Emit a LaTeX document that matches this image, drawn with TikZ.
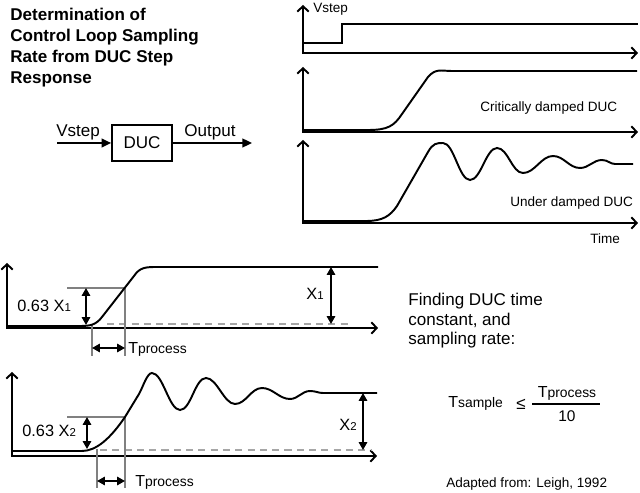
\documentclass[tikz,border=0pt]{standalone}
\usepackage{fontspec}
\setmainfont{Liberation Sans}
\usetikzlibrary{arrows.meta}

\newcommand{\idx}[1]{{\fontsize{6.5}{7}\selectfont #1}}
\newcommand{\tsub}[1]{T{\fontsize{7.9}{9}\selectfont #1}}

\tikzset{
	axis/.style={line width=1.1pt, line join=miter, {Straight Barb[length=3pt,width=6.5pt]}-{Straight Barb[length=3pt,width=6.5pt]}},
	sig/.style={line width=1.1pt},
	dim/.style={line width=0.9pt, {Triangle[length=4.5pt,width=4.8pt]}-{Triangle[length=4.5pt,width=4.8pt]}},
	flow/.style={line width=1.1pt, -{Triangle[length=5.5pt,width=5pt]}},
	guide/.style={line width=0.6pt, black!50},
	zero/.style={line width=1.1pt, black!35, dash pattern=on 4pt off 3pt},
	box/.style={draw, line width=1.1pt, minimum width=34pt, minimum height=20pt, inner sep=0pt},
	lbl/.style={inner sep=0pt, anchor=base west},
	txtbig/.style={font=\fontsize{9.7}{11}\selectfont},
	txtmid/.style={font=\fontsize{9.3}{10}\selectfont},
	txtsmall/.style={font=\fontsize{7.7}{9}\selectfont}
}

\begin{document}
\begin{tikzpicture}[x=0.02cm, y=-0.02cm]
	\useasboundingbox (0,0) rectangle (640,493);

	% title
	\foreach \t [count=\i] in {Determination of, Control Loop Sampling, Rate from DUC Step, Response}
		\node[lbl, font=\bfseries\fontsize{9.7}{11}\selectfont] (title\i) at (10,{21+20.7*(\i-1)}) {\t};

	% block
	\node[box, txtbig] (duc) at (142,143) {DUC};
	\coordinate (vin) at (57,143);
	\coordinate (vout) at (252,143);
	\draw[flow] (vin) -- (duc);
	\draw[flow] (duc) -- (vout);
	\node[lbl, txtbig] (vinlbl) at (56,137) {Vstep};
	\node[lbl, txtbig] (voutlbl) at (184,137) {Output};

	% axes, top right
	\foreach \o/\t in {53/5, 132/67, 223/140}
		\draw[axis] (303,\t) -- (303,\o) -- (638,\o);

	% step input
	\draw[sig] (303,43) -- (342,43) -- (342,24) -- (638,24);
	% critically damped
	\draw[sig] (303,130) -- (368,130) .. controls (388,130) and (394,126) .. (402,114)
		-- (428,77) .. controls (436,68) and (441,71) .. (452,71) -- (637,71);
	% under damped
	\draw[sig] (303,221) -- (366,221) .. controls (383,221) and (390,216) .. (397,206)
		-- (428,152) .. controls (433,143) and (437,143) .. (443,143)
		.. controls (454,143) and (459,180) .. (470,180)
		.. controls (481,180) and (486,148) .. (497,148)
		.. controls (508,148) and (512,173) .. (523,173)
		.. controls (535,173) and (541,156) .. (553,156)
		.. controls (564,156) and (569,168) .. (580,168)
		.. controls (589,168) and (593,160) .. (602,160)
		.. controls (608,160) and (610,164) .. (615,164) -- (633,164);

	\node[lbl, txtsmall] (vsteplbl) at (313,13) {Vstep};
	\node[lbl, txtsmall] (critlbl) at (480,112) {Critically damped DUC};
	\node[lbl, txtsmall] (underlbl) at (510,207) {Under damped DUC};
	\node[lbl, txtsmall] (timelbl) at (590,244) {Time};

	% lower, critically damped
	\coordinate (A1) at (125,288); % 63 %
	\coordinate (B1) at (92,325);  % start
	\draw[axis] (7,263) -- (7,328) -- (378,328);
	\draw[zero] (107,324) -- (352,324);
	\draw[guide] (67,288) -- (A1) -- (125,356);
	\draw[guide] (B1) -- (92,356);
	\draw[sig] (7,326) -- (80,326) .. controls (90,326) and (96,325) .. (102,317)
		-- (134,276) .. controls (140,267) and (146,267) .. (158,267) -- (378,267);
	\draw[dim] (86,288) -- (86,325);
	\draw[dim] (92,348) -- (125,348);
	\draw[dim] (331,267) -- (331,324);
	\node[lbl, txtmid] (k1) at (17,312) {0.63 X\idx{1}};
	\node[lbl, txtmid] (x1) at (306,300) {X\idx{1}};
	\node[lbl, font=\fontsize{9.1}{10}\selectfont] (tp1) at (128,354) {\tsub{process}};

	% lower, under damped
	\coordinate (A2) at (125,417); % 63 %
	\coordinate (B2) at (97,449);  % start
	\draw[axis] (12,372) -- (12,456) -- (377,456);
	\draw[zero] (100,450) -- (372,450);
	\draw[guide] (67,417) -- (A2) -- (125,488);
	\draw[guide] (B2) -- (97,488);
	\draw[sig] (12,451) -- (82,451) .. controls (96,451) and (110,439) .. (A2)
		-- (139,394) .. controls (143,387) and (147,373) .. (152,373)
		.. controls (163,373) and (169,410) .. (180,410)
		.. controls (191,410) and (195,378) .. (206,378)
		.. controls (217,378) and (224,404) .. (235,404)
		.. controls (246,404) and (251,388) .. (262,388)
		.. controls (273,388) and (279,399) .. (290,399)
		.. controls (298,399) and (302,391) .. (310,391)
		.. controls (316,391) and (318,393) .. (323,393) -- (377,393);
	\draw[dim] (87,417) -- (87,449);
	\draw[dim] (97,481) -- (125,481);
	\draw[dim] (363,393) -- (363,450);
	\node[lbl, txtmid] (k2) at (22,437) {0.63 X\idx{2}};
	\node[lbl, txtmid] (x2) at (339,431) {X\idx{2}};
	\node[lbl, font=\fontsize{9.1}{10}\selectfont] (tp2) at (135,487) {\tsub{process}};

	% sampling rate
	\foreach \t [count=\i] in {Finding DUC time, {constant, and}, sampling rate:}
		\node[lbl, txtbig] (find\i) at (408,{306+19.5*(\i-1)}) {\t};
	\node[lbl, font=\fontsize{9.1}{10}\selectfont] (ts) at (448,408) {\tsub{sample}};
	\node[lbl, txtbig] (le) at (516,410) {≤};
	\coordinate (F1) at (532,404);
	\coordinate (F2) at (600,404);
	\draw[line width=1.1pt] (F1) -- (F2);
	\node[inner sep=0pt, anchor=base, font=\fontsize{9.1}{10}\selectfont] (num) at (567,398) {\tsub{process}};
	\node[inner sep=0pt, anchor=base, font=\fontsize{8.8}{10}\selectfont] (den) at (567,422) {10};
	\node[lbl, txtsmall] (src) at (446,488) {Adapted from: Leigh, 1992};
\end{tikzpicture}
\end{document}
